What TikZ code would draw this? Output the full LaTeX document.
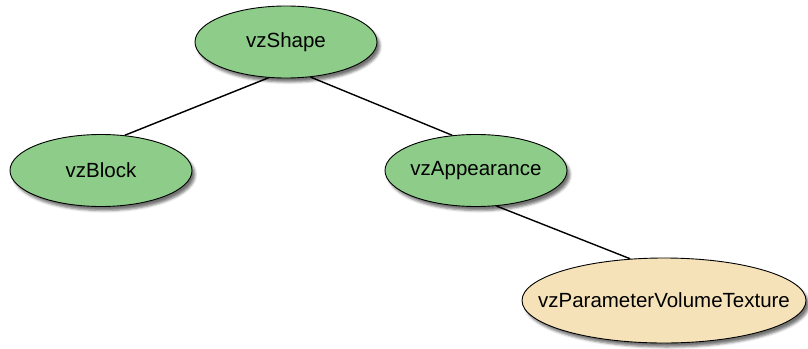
\documentclass[tikz,border=0pt]{standalone}
\usepackage{fontspec}
\setmainfont{Liberation Sans}
\usetikzlibrary{shapes.geometric,shadows.blur,backgrounds}
\definecolor{nodegreen}{RGB}{141,204,137}
\definecolor{nodebeige}{RGB}{246,226,184}
\tikzset{
  treenode/.style={ellipse, draw=black, line width=0.9pt, inner sep=0pt,
    minimum width=182pt, minimum height=72pt,
    font=\fontsize{20.5}{24}\selectfont,
    blur shadow={shadow xshift=3pt, shadow yshift=-4pt, shadow blur radius=2.5pt, shadow opacity=55}},
  greennode/.style={treenode, fill=nodegreen},
  beigenode/.style={treenode, fill=nodebeige, minimum width=284pt, minimum height=85pt},
  edge/.style={draw=black, line width=1.4pt}
}
\begin{document}
\begin{tikzpicture}[x=1pt,y=-1pt]
\useasboundingbox (0,0) rectangle (808,348);
\node[greennode] (shape) at (286,42) {\makebox[0pt]{vzShape}};
\node[greennode] (block) at (101,170.5) {\makebox[0pt]{vzBlock}};
\node[greennode] (appear) at (476,170.5) {\makebox[0pt]{vzAppearance}};
\node[beigenode] (pvt) at (664,300.5) {\makebox[0pt]{vzParameterVolumeTexture}};
\begin{scope}[on background layer]
\draw[edge] (shape.244) -- (block.56);
\draw[edge] (shape.305) -- (appear.124);
\draw[edge] (appear.300) -- (pvt.129);
\end{scope}
\end{tikzpicture}
\end{document}
